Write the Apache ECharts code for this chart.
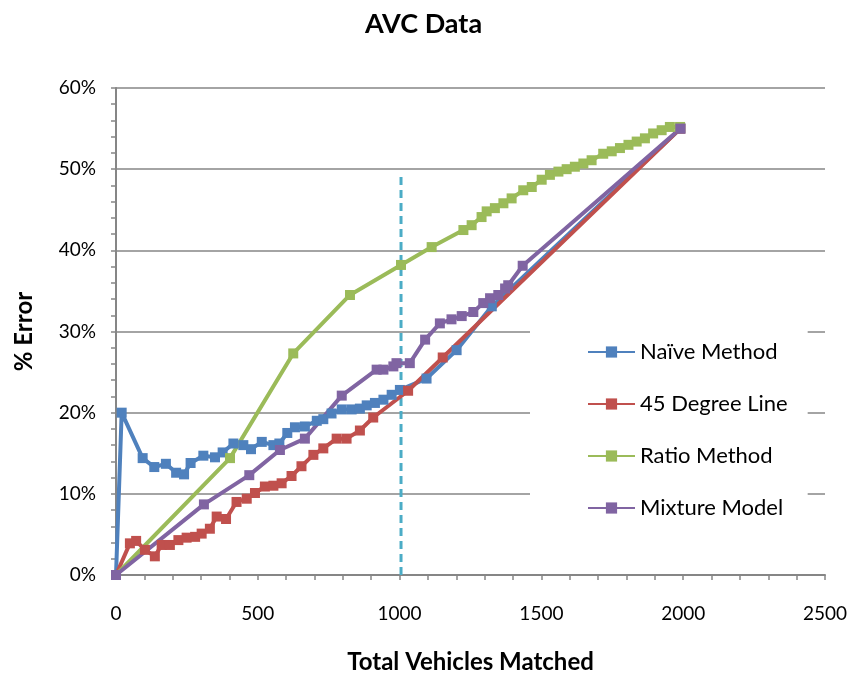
<!DOCTYPE html>
<html><head><meta charset="utf-8">
<script src="https://cdn.jsdelivr.net/npm/echarts@6/dist/echarts.min.js"></script>
<style>html,body{margin:0;padding:0;background:#fff}#c{width:847px;height:673px}</style>
</head><body><div id="c"></div>
<script>
const naive = [[0,0],[20,20.0],[94,14.4],[135,13.3],[176,13.7],[212,12.6],[240,12.4],[263,13.8],[308,14.7],[349,14.5],[376,15.1],[414,16.2],[449,16.0],[476,15.5],[514,16.4],[555,16.0],[576,16.2],[604,17.5],[631,18.2],[666,18.3],[708,19.0],[731,19.2],[760,19.9],[796,20.4],[831,20.4],[860,20.5],[884,20.9],[913,21.2],[943,21.6],[972,22.2],[1001,22.8],[1095,24.2],[1201,27.7],[1325,33.1],[1990,55.0]];
const degree45 = [[0,0],[49,3.9],[71,4.2],[102,3.1],[137,2.3],[161,3.7],[190,3.7],[220,4.3],[249,4.6],[279,4.7],[302,5.1],[331,5.7],[355,7.2],[388,6.9],[425,9.0],[461,9.4],[490,10.1],[525,10.9],[555,11.0],[584,11.3],[619,12.2],[654,13.4],[696,14.8],[731,15.6],[778,16.8],[813,16.8],[860,17.8],[907,19.4],[1030,22.7],[1152,26.8],[1990,55.0]];
const ratio = [[0,0],[402,14.4],[625,27.3],[825,34.5],[1005,38.2],[1113,40.4],[1225,42.5],[1254,43.1],[1289,44.1],[1307,44.8],[1336,45.2],[1366,45.8],[1395,46.4],[1436,47.4],[1466,47.8],[1501,48.7],[1530,49.3],[1560,49.7],[1589,50.0],[1618,50.3],[1648,50.7],[1677,51.1],[1718,51.9],[1748,52.2],[1777,52.6],[1807,53.0],[1836,53.4],[1865,53.8],[1894,54.4],[1924,54.8],[1953,55.2],[1989,55.2]];
const mixture = [[0,0],[310,8.7],[470,12.3],[578,15.4],[666,16.8],[796,22.1],[919,25.3],[943,25.3],[978,25.7],[989,26.1],[1036,26.1],[1090,29.0],[1142,31.0],[1183,31.5],[1219,31.9],[1260,32.4],[1295,33.5],[1319,34.1],[1348,34.5],[1372,35.3],[1383,35.7],[1434,38.1],[1990,55.0]];
const cutoffLine = [[1005,0],[1005,49.3]];
const seriesNames = ['Naïve Method','45 Degree Line','Ratio Method','Mixture Model'];
const colors = ['#4F81BD','#C0504D','#9BBB59','#8064A2'];
const FONT = 'Lato';

const chart = echarts.init(document.getElementById('c'));
const mk = (name, data, color) => ({
  name, type:'line', data, symbol:'rect', symbolSize:10,
  lineStyle:{width:4,color}, itemStyle:{color}, animation:false
});
chart.setOption({
  animation:false,
  textStyle:{fontFamily:FONT},
  title:{text:'AVC Data',left:'center',top:6,textStyle:{fontFamily:FONT,fontSize:27,fontWeight:'bold',color:'#000'}},
  grid:{left:116,right:22,top:88,bottom:98,containLabel:false,outerBoundsMode:'none'},
  xAxis:{type:'value',min:0,max:2500,interval:500,
    name:'Total Vehicles Matched',nameLocation:'middle',nameGap:75,
    nameTextStyle:{fontFamily:FONT,fontSize:24,fontWeight:'bold',color:'#000'},
    axisLine:{lineStyle:{color:'#868686',width:2}},
    axisTick:{show:true,length:5,lineStyle:{color:'#868686',width:1.5}},
    minorTick:{show:true,splitNumber:5,length:5,lineStyle:{color:'#868686',width:1.5}},
    axisLabel:{fontFamily:FONT,fontSize:19,color:'#000',margin:29,formatter:v=>String(v)},
    splitLine:{show:false}},
  yAxis:{type:'value',min:0,max:60,interval:10,
    name:'% Error',nameLocation:'middle',nameGap:80,nameRotate:90,
    nameTextStyle:{fontFamily:FONT,fontSize:24,fontWeight:'bold',color:'#000'},
    axisLine:{show:true,lineStyle:{color:'#868686',width:2}},
    axisTick:{show:true,length:5,lineStyle:{color:'#868686',width:1.5}},
    minorTick:{show:true,splitNumber:5,length:5,lineStyle:{color:'#868686',width:1.5}},
    axisLabel:{fontFamily:FONT,fontSize:19,color:'#000',margin:20,formatter:'{value}%'},
    splitLine:{show:true,lineStyle:{color:'#868686',width:1.5}}},
  legend:{orient:'vertical',left:530,top:300,data:seriesNames,
    backgroundColor:'#fff',padding:[41,20,30,57],
    itemWidth:47,itemHeight:14,itemGap:30,
    textStyle:{fontFamily:FONT,fontSize:22,color:'#000'}},
  series:[
    mk(seriesNames[0],naive,colors[0]),
    mk(seriesNames[1],degree45,colors[1]),
    mk(seriesNames[2],ratio,colors[2]),
    mk(seriesNames[3],mixture,colors[3]),
    {name:'cutoff',type:'line',data:cutoffLine,symbol:'none',z:1,
     lineStyle:{color:'#4BACC6',width:3,type:[8,5]},animation:false}
  ]
});
</script></body></html>
